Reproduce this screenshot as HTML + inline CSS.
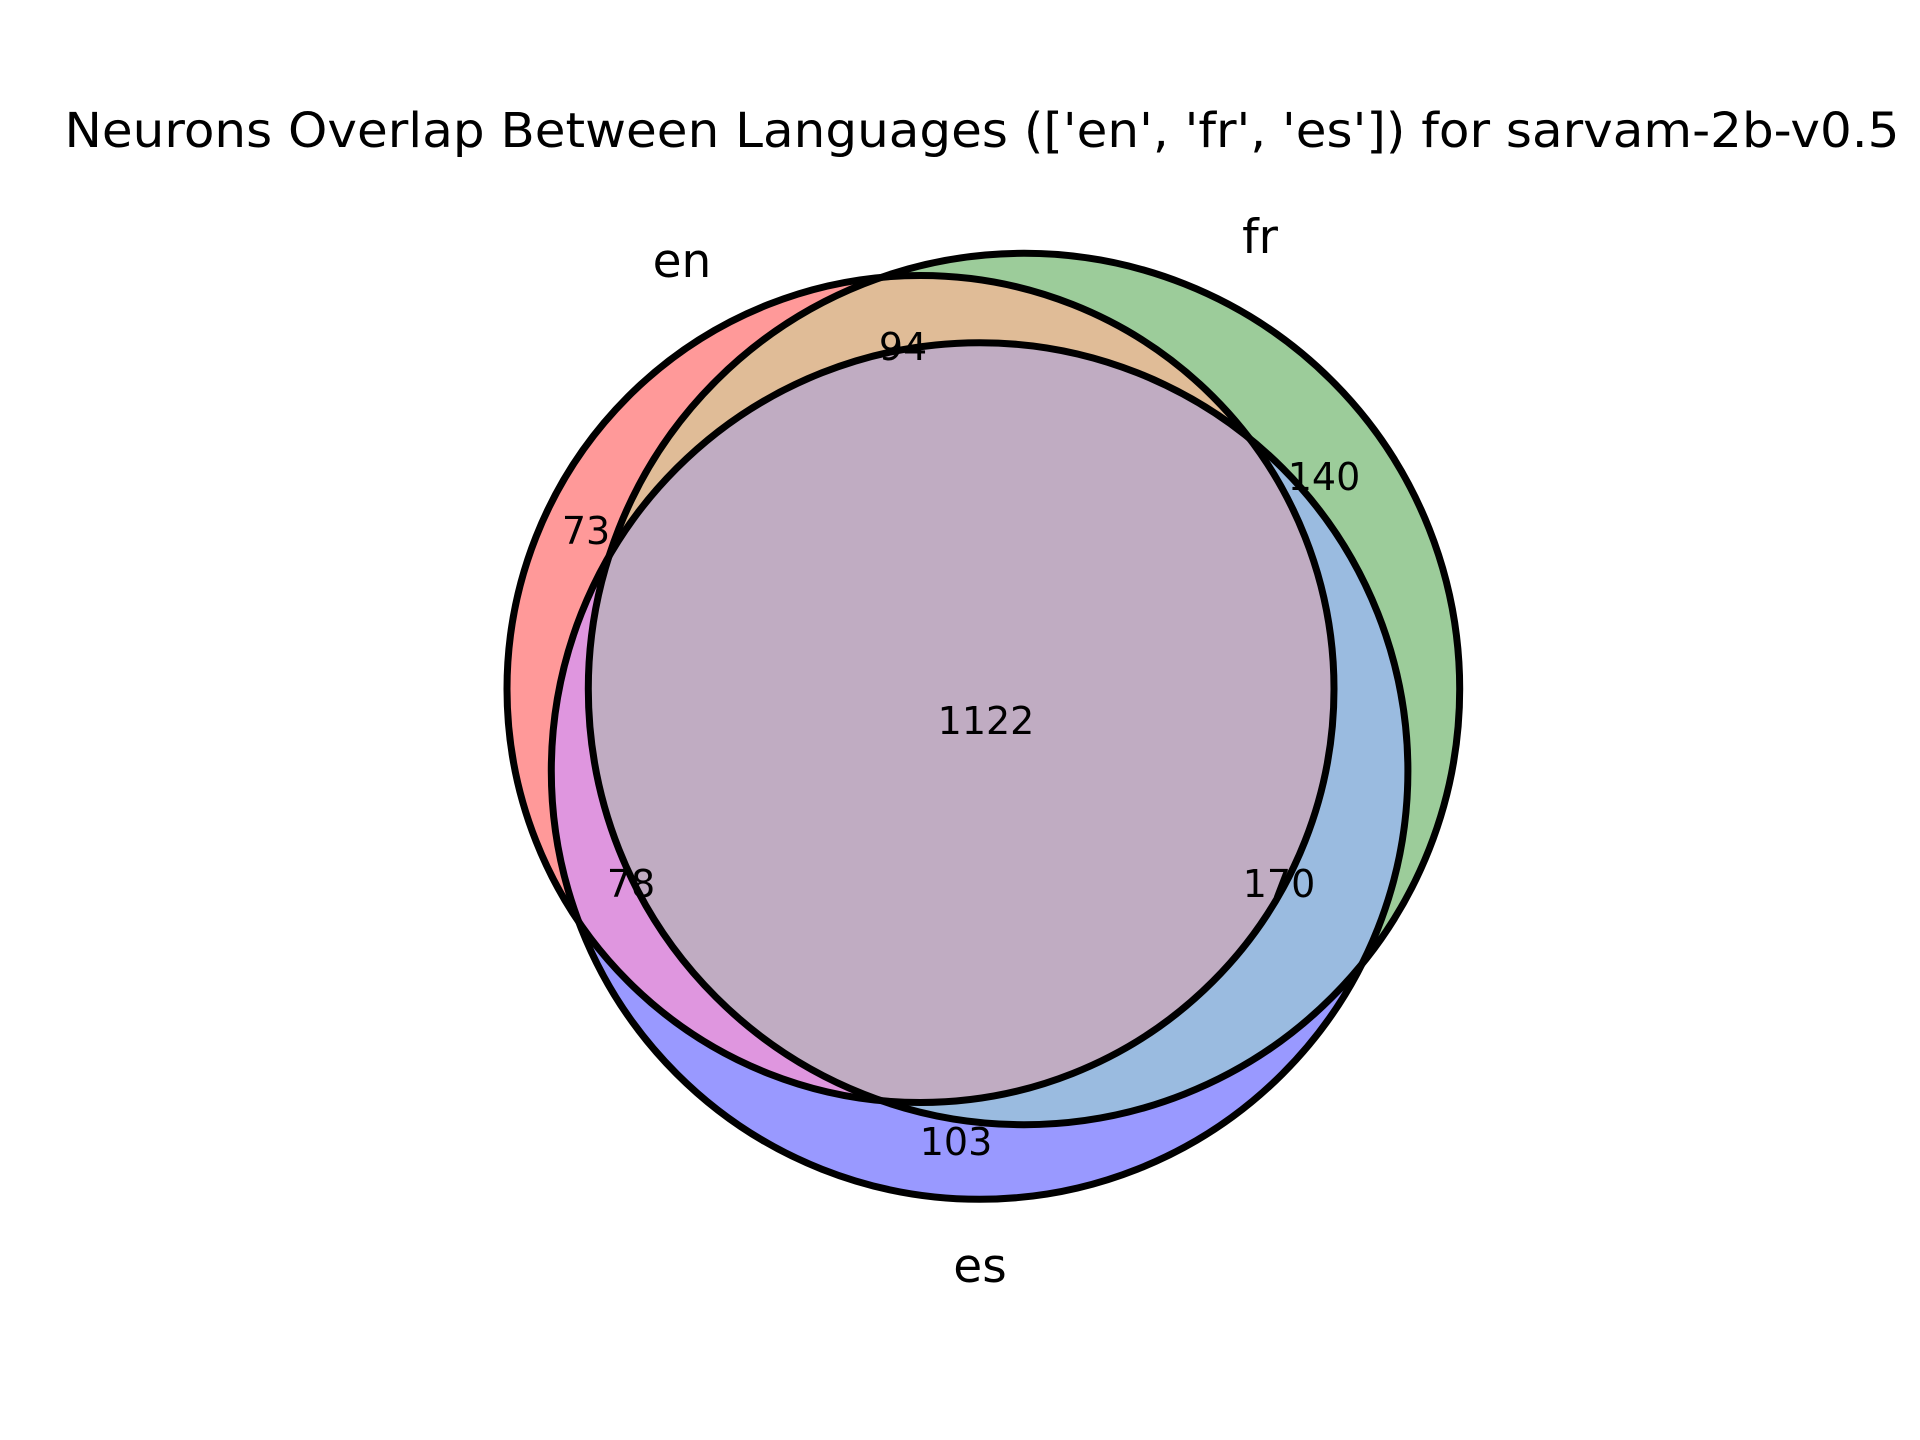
<!DOCTYPE html>
<html><head><meta charset="utf-8"><style>html,body{margin:0;padding:0;background:#fff}svg{display:block}</style></head>
<body>
<svg width="1920" height="1440" viewBox="0 0 1920 1440" xmlns="http://www.w3.org/2000/svg" font-family="DejaVu Sans, Liberation Sans, sans-serif">
<defs>
<clipPath id="cen"><circle cx="920.5" cy="689" r="413.5"/></clipPath>
<clipPath id="cfr"><circle cx="1024" cy="689" r="435.7"/></clipPath>
<clipPath id="ces"><circle cx="979.6" cy="771" r="428.3"/></clipPath>
</defs>
<rect width="1920" height="1440" fill="#fff"/>
<circle cx="920.5" cy="689" r="413.5" fill="#ff9999"/>
<circle cx="1024" cy="689" r="435.7" fill="#9ccc9a"/>
<circle cx="979.6" cy="771" r="428.3" fill="#9999ff"/>
<g clip-path="url(#cen)"><circle cx="1024" cy="689" r="435.7" fill="#e0bc97"/></g>
<g clip-path="url(#cen)"><circle cx="979.6" cy="771" r="428.3" fill="#df96df"/></g>
<g clip-path="url(#cfr)"><circle cx="979.6" cy="771" r="428.3" fill="#9abbe0"/></g>
<g clip-path="url(#cen)"><g clip-path="url(#cfr)"><circle cx="979.6" cy="771" r="428.3" fill="#c0acc2"/></g></g>
<g fill="none" stroke="#000" stroke-width="7">
<circle cx="920.5" cy="689" r="413.5"/>
<circle cx="1024" cy="689" r="435.7"/>
<circle cx="979.6" cy="771" r="428.3"/>
</g>
<text x="982" y="147" font-size="48" text-anchor="middle" textLength="1835" lengthAdjust="spacingAndGlyphs">Neurons Overlap Between Languages (['en', 'fr', 'es']) for sarvam-2b-v0.5</text>
<g font-size="47" text-anchor="middle">
<text x="682" y="277">en</text>
<text x="1260" y="253">fr</text>
<text x="980" y="1282">es</text>
</g>
<g font-size="38" text-anchor="middle">
<text x="903" y="360">94</text>
<text x="1324" y="490">140</text>
<text x="586" y="544">73</text>
<text x="986" y="734">1122</text>
<text x="631" y="897">78</text>
<text x="1279" y="897">170</text>
<text x="956" y="1155">103</text>
</g>
</svg>
</body></html>
